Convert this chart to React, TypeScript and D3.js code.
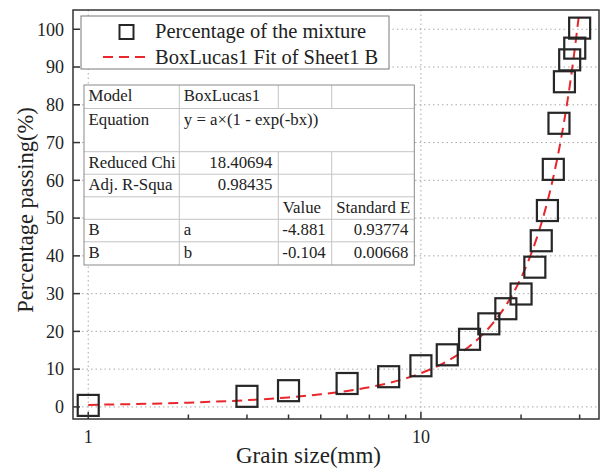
import React from "react";
import * as d3 from "d3";

// measured data: grain size (mm) vs percentage passing
const grainSizes = [1, 3, 4, 6, 8, 10, 12, 14, 16, 18, 20, 22, 23, 24, 25, 26, 27, 28, 29, 30];
const passing = [0.4, 2.8, 4.3, 6.2, 8.0, 10.9, 13.8, 17.9, 22.0, 26.0, 29.9, 37.0, 44.0, 52.0, 62.9, 75.1, 86.1, 91.9, 95.0, 100.3];

// BoxLucas1 fit curve
const fitX = [1, 2, 3, 4, 5, 6, 8, 10, 12, 14, 16, 18, 19, 20, 21, 22, 23, 24, 25, 26, 27, 28, 29, 29.8];
const fitY = [0.54, 1.13, 1.79, 2.52, 3.33, 4.23, 6.33, 8.93, 12.12, 16.05, 20.89, 26.85, 30.33, 34.19, 38.5, 43.22, 48.5, 54.34, 60.83, 68.04, 76.04, 84.9, 94.76, 103.2];

const yTicks = [0, 10, 20, 30, 40, 50, 60, 70, 80, 90, 100];
const xMajorTicks = [1, 10];
const xMinorTicks = [2, 3, 4, 5, 6, 7, 8, 9, 20, 30];

const legendLabels = ["Percentage of the mixture", "BoxLucas1 Fit of Sheet1 B"];

const tableRows = [
  ["Model", "BoxLucas1", "", ""],
  ["Equation", "y = a\u00d7(1 - exp(-bx))", "", ""],
  ["Reduced Chi", "18.40694", "", ""],
  ["Adj. R-Squa", "0.98435", "", ""],
  ["", "", "Value", "Standard E"],
  ["B", "a", "-4.881", "0.93774"],
  ["B", "b", "-0.104", "0.00668"],
];

const W = 601;
const H = 468;
const left = 73;
const right = 599;
const top = 10;
const bottom = 419;
const FONT = "'Liberation Serif', 'Times New Roman', serif";
const RED = "#e8262b";

const x = d3.scaleLog().domain([0.9, 34.3]).range([left, right]);
const y = d3.scaleLinear().domain([-3.2, 105.1]).range([bottom, top]);

const isNum = (s: string) => /^-?\d/.test(s);

export default function App() {
  const fitLine = d3
    .line<number>()
    .x((d) => x(d))
    .y((_, i) => y(fitY[i]))
    .curve(d3.curveMonotoneX)(fitX);

  // table geometry
  const colX = [84, 179.3, 278.3, 331.7, 414.3];
  const rowY = [85, 108.5, 151.7, 174.2, 196.8, 219.3, 241.8, 265];

  return (
    <svg
      width={W}
      height={H}
      style={{ position: "absolute", left: 0, top: 0, background: "#fff" }}
      fontFamily={FONT}
    >
      {/* grid */}
      {yTicks.map((t) => (
        <line key={"gy" + t} x1={left} x2={right} y1={y(t)} y2={y(t)} stroke="#a8a8a8" strokeWidth={1} strokeDasharray="1.5,3" />
      ))}
      {xMajorTicks.map((t) => (
        <line key={"gx" + t} x1={x(t)} x2={x(t)} y1={top} y2={bottom} stroke="#a8a8a8" strokeWidth={1} strokeDasharray="1.5,3" />
      ))}

      {/* fit curve */}
      <path d={fitLine || ""} fill="none" stroke={RED} strokeWidth={2} strokeDasharray="10,6" />

      {/* data squares */}
      {grainSizes.map((g, i) => (
        <rect key={"p" + i} x={x(g) - 10.5} y={y(passing[i]) - 10.5} width={21} height={21} fill="none" stroke="#262626" strokeWidth={2.2} />
      ))}

      {/* frame */}
      <rect x={left} y={top} width={right - left} height={bottom - top} fill="none" stroke="#333" strokeWidth={1.5} />

      {/* y ticks */}
      {yTicks.map((t) => (
        <g key={"yt" + t}>
          <line x1={left} x2={left + 7} y1={y(t)} y2={y(t)} stroke="#333" strokeWidth={1.5} />
          <text x={64} y={y(t)} dy="0.35em" textAnchor="end" fontSize={18} fill="#222">
            {t}
          </text>
        </g>
      ))}

      {/* x ticks */}
      {xMajorTicks.map((t) => (
        <g key={"xt" + t}>
          <line x1={x(t)} x2={x(t)} y1={bottom} y2={bottom - 7} stroke="#333" strokeWidth={1.5} />
          <text x={x(t)} y={443} textAnchor="middle" fontSize={18} fill="#222">
            {t}
          </text>
        </g>
      ))}
      {xMinorTicks.map((t) => (
        <line key={"xm" + t} x1={x(t)} x2={x(t)} y1={bottom} y2={bottom - 4.5} stroke="#333" strokeWidth={1.5} />
      ))}

      {/* axis titles */}
      <text x={308.5} y={463} textAnchor="middle" fontSize={23} fill="#222">
        Grain size(mm)
      </text>
      <text transform="translate(33,210) rotate(-90)" textAnchor="middle" fontSize={22.5} fill="#222">
        Percentage passing(%)
      </text>

      {/* legend */}
      <rect x={81} y={16} width={308} height={53} fill="#fff" stroke="#7a7a7a" strokeWidth={1} />
      <rect x={119.5} y={25} width={14} height={14} fill="none" stroke="#262626" strokeWidth={2} />
      <line x1={103} x2={149} y1={57} y2={57} stroke={RED} strokeWidth={2} strokeDasharray="10,6" />
      <text x={155} y={38} fontSize={20.5} fill="#222">
        {legendLabels[0]}
      </text>
      <text x={155} y={64} fontSize={20.5} fill="#222">
        {legendLabels[1]}
      </text>

      {/* fit table */}
      <rect x={colX[0]} y={rowY[0]} width={colX[4] - colX[0]} height={rowY[7] - rowY[0]} fill="#fff" />
      {rowY.slice(1, 7).map((ry, i) => (
        <line key={"tr" + i} x1={colX[0]} x2={colX[4]} y1={ry} y2={ry} stroke="#c4c4c4" strokeWidth={1} />
      ))}
      {colX.slice(1, 4).map((cx, j) =>
        tableRows.map((row, i) =>
          i === 1 && j > 0 ? null : (
            <line key={"tc" + j + "-" + i} x1={cx} x2={cx} y1={rowY[i]} y2={rowY[i + 1]} stroke="#c4c4c4" strokeWidth={1} />
          )
        )
      )}
      <rect x={colX[0]} y={rowY[0]} width={colX[4] - colX[0]} height={rowY[7] - rowY[0]} fill="none" stroke="#8a8a8a" strokeWidth={1} />
      {tableRows.map((row, i) =>
        row.map((cell, j) => {
          if (!cell) return null;
          const right = isNum(cell) && j > 0;
          const tx = right ? colX[j + 1] - 6 : colX[j] + 4.5;
          return (
            <text key={"tt" + i + "-" + j} x={tx} y={rowY[i] + 16} textAnchor={right ? "end" : "start"} fontSize={16.8} fill="#222">
              {cell}
            </text>
          );
        })
      )}
    </svg>
  );
}
